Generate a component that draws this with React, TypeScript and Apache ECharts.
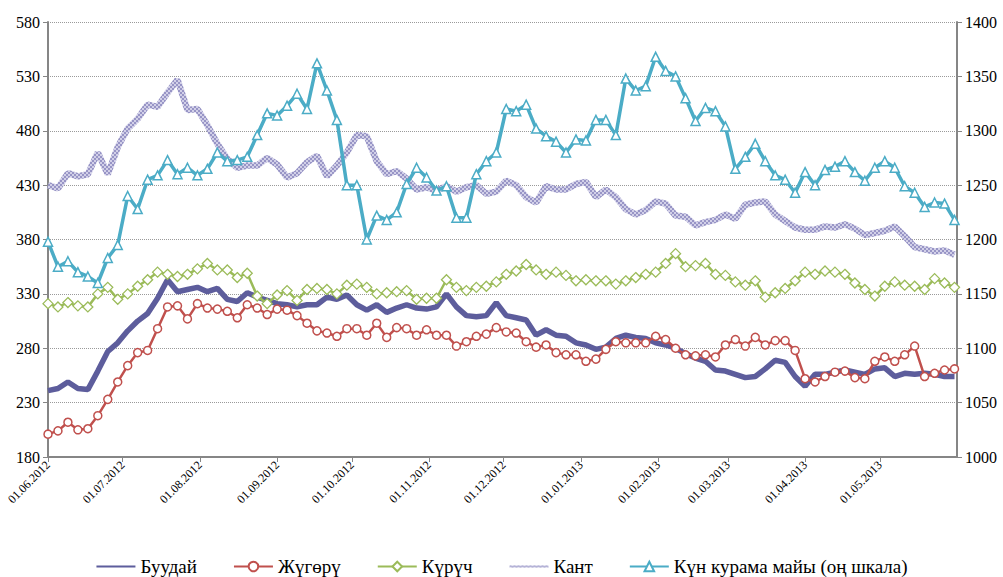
import React, { useEffect, useRef } from "react";
import * as echarts from "echarts";

const dates = [
  "2012-06-01","2012-06-05","2012-06-09","2012-06-13","2012-06-17","2012-06-21","2012-06-25","2012-06-29",
  "2012-07-03","2012-07-07","2012-07-11","2012-07-15","2012-07-19","2012-07-23","2012-07-27","2012-07-31",
  "2012-08-04","2012-08-08","2012-08-12","2012-08-16","2012-08-20","2012-08-24","2012-08-28","2012-09-01",
  "2012-09-05","2012-09-09","2012-09-13","2012-09-17","2012-09-21","2012-09-25","2012-09-29",
  "2012-10-03","2012-10-07","2012-10-11","2012-10-15","2012-10-19","2012-10-23","2012-10-27","2012-10-31",
  "2012-11-04","2012-11-08","2012-11-12","2012-11-16","2012-11-20","2012-11-24","2012-11-28",
  "2012-12-02","2012-12-06","2012-12-10","2012-12-14","2012-12-18","2012-12-22","2012-12-26","2012-12-30",
  "2013-01-03","2013-01-07","2013-01-11","2013-01-15","2013-01-19","2013-01-23","2013-01-27","2013-01-31",
  "2013-02-04","2013-02-08","2013-02-12","2013-02-16","2013-02-20","2013-02-24","2013-02-28",
  "2013-03-04","2013-03-08","2013-03-12","2013-03-16","2013-03-20","2013-03-24","2013-03-28",
  "2013-04-01","2013-04-05","2013-04-09","2013-04-13","2013-04-17","2013-04-21","2013-04-25","2013-04-29",
  "2013-05-03","2013-05-07","2013-05-11","2013-05-15","2013-05-19","2013-05-23","2013-05-27","2013-05-31",
];

const monthTicks = [
  "2012-06-01","2012-07-01","2012-08-01","2012-09-01","2012-10-01","2012-11-01",
  "2012-12-01","2013-01-01","2013-02-01","2013-03-01","2013-04-01","2013-05-01",
];

const wheat = [
  241, 243, 249, 243, 242, 259, 277, 285, 296, 305, 312, 326, 343, 332, 334, 336, 332, 335, 325, 323, 331, 327, 324, 321,
  320, 318, 320, 320, 327, 325, 329, 320, 315, 320, 313, 317, 320, 317, 316, 318, 330, 318, 310, 309, 310, 322, 310,
  308, 306, 292, 297, 292, 291, 285, 283, 279, 281, 289, 292, 290, 289, 285, 283, 280, 275, 271, 268, 260, 259, 256,
  253, 254, 261, 269, 267, 254, 245, 256, 256, 258, 260, 258, 256, 261, 262, 254, 257, 256, 257, 256, 254, 254,
];

const corn = [
  201, 204, 212, 205, 206, 218, 233, 249, 264, 276, 278, 298, 318, 319, 307, 321, 317, 316, 314, 308, 320, 317, 311, 316,
  315, 310, 303, 296, 294, 291, 298, 298, 292, 303, 290, 299, 298, 292, 297, 292, 292, 282, 286, 291, 293, 299, 295,
  294, 286, 281, 283, 276, 274, 274, 268, 270, 279, 286, 285, 285, 285, 291, 288, 280, 274, 273, 274, 272, 283, 288,
  282, 290, 283, 287, 287, 278, 252, 249, 254, 258, 259, 253, 252, 268, 272, 268, 274, 282, 254, 257, 260, 261,
];

const rice = [
  321, 318, 322, 319, 318, 330, 336, 325, 330, 337, 343, 350, 348, 346, 348, 353, 358, 352, 352, 345, 349, 328, 321, 329,
  333, 324, 334, 335, 334, 330, 338, 339, 336, 330, 331, 332, 333, 325, 326, 326, 343, 336, 333, 336, 337, 341, 348,
  351, 357, 352, 348, 350, 347, 342, 343, 342, 342, 339, 342, 345, 348, 350, 358, 367, 355, 356, 358, 348, 347, 341,
  338, 342, 327, 331, 335, 342, 350, 348, 351, 350, 348, 340, 334, 328, 337, 341, 338, 337, 334, 344, 340, 336,
];

const sugar = [
  430, 427, 441, 438, 440, 460, 440, 465, 482, 491, 504, 502, 515, 527, 499, 500, 485, 468, 454, 446, 448, 448, 455, 449,
  437, 441, 451, 457, 438, 448, 460, 476, 475, 452, 440, 443, 436, 426, 428, 425, 429, 424, 428, 430, 422, 424, 434,
  430, 419, 414, 429, 426, 426, 431, 433, 419, 426, 419, 408, 403, 407, 415, 413, 402, 401, 393, 396, 398, 403, 399,
  412, 414, 415, 403, 397, 391, 389, 389, 392, 391, 394, 390, 384, 386, 388, 392, 383, 373, 371, 369, 370, 366,
];

const sunOil = [
  1198, 1175, 1180, 1170, 1166, 1160, 1183, 1195, 1240, 1228, 1255, 1259, 1273, 1260, 1266, 1259, 1265, 1280, 1272, 1273, 1276, 1296, 1316, 1314,
  1323, 1334, 1320, 1362, 1337, 1310, 1250, 1250, 1200, 1222, 1218, 1225, 1251, 1266, 1257, 1245, 1249, 1220, 1220, 1260, 1272, 1280, 1320,
  1318, 1324, 1302, 1295, 1290, 1280, 1292, 1291, 1310, 1310, 1296, 1348, 1337, 1341, 1368, 1355, 1350, 1330, 1309, 1321, 1318, 1304, 1265,
  1276, 1288, 1272, 1259, 1255, 1243, 1262, 1250, 1264, 1267, 1272, 1262, 1254, 1266, 1272, 1266, 1249, 1243, 1230, 1234, 1233, 1218,
];

const seriesNames = ["Буудай", "Жүгөрү", "Күрүч", "Кант", "Күн курама майы (оң шкала)"];

const FONT = "Liberation Serif";

function toTs(s: string): number {
  const [y, m, d] = s.split("-").map(Number);
  return Date.UTC(y, m - 1, d);
}

function pad(n: number): string {
  return n < 10 ? "0" + n : String(n);
}

export default function App() {
  const ref = useRef<HTMLDivElement>(null);

  useEffect(() => {
    if (!ref.current) return;
    const chart = echarts.init(ref.current, undefined, { renderer: "svg" });

    const c = document.createElement("canvas");
    c.width = 4;
    c.height = 4;
    const ctx = c.getContext("2d");
    if (ctx) {
      ctx.fillStyle = "#D2D0E8";
      ctx.fillRect(0, 0, 4, 4);
      ctx.fillStyle = "#9895C6";
      ctx.fillRect(0, 0, 2, 2);
      ctx.fillRect(2, 2, 2, 2);
    }
    const sugarColor: any = { image: c, repeat: "repeat" };

    const xs = dates.map(toTs);
    const pair = (arr: number[]) => arr.map((v, i) => [xs[i], v]);
    const ticks = monthTicks.map(toTs);

    const lbl = (size: number) => ({
      fontFamily: FONT,
      fontSize: size,
      color: "#000",
      fontWeight: "normal",
    });

    const option: any = {
      animation: false,
      backgroundColor: "#ffffff",
      textStyle: { fontFamily: FONT },
      grid: { left: 48, right: 46, top: 22, bottom: 120, containLabel: false },
      legend: {
        data: [
          { name: seriesNames[0], itemStyle: { opacity: 0 } },
          { name: seriesNames[1] },
          { name: seriesNames[2] },
          { name: seriesNames[3], itemStyle: { opacity: 0 } },
          { name: seriesNames[4] },
        ],
        left: "center",
        top: 552,
        itemWidth: 39,
        itemHeight: 12,
        itemGap: 36,
        textStyle: lbl(19),
      },
      xAxis: {
        type: "value",
        min: toTs("2012-06-01"),
        max: toTs("2013-06-01"),
        axisLine: { show: true, onZero: false, lineStyle: { color: "#868686", width: 2 } },
        axisTick: { show: true, customValues: ticks, length: 5, lineStyle: { color: "#868686", width: 1 } },
        axisLabel: {
          customValues: ticks,
          rotate: 45,
          ...lbl(12),
          margin: 6,
          formatter: (v: number) => {
            const d = new Date(v);
            return pad(d.getUTCDate()) + "." + pad(d.getUTCMonth() + 1) + "." + d.getUTCFullYear();
          },
        },
        splitLine: { show: false },
      },
      yAxis: [
        {
          type: "value",
          position: "left",
          min: 180,
          max: 580,
          interval: 50,
          axisLine: { show: true, lineStyle: { color: "#868686", width: 2 } },
          axisTick: { show: true, length: 5, lineStyle: { color: "#868686" } },
          axisLabel: { ...lbl(16), margin: 8, formatter: (v: number) => String(v) },
          splitLine: { show: true, lineStyle: { color: "#9a9a9a", type: "dotted", width: 1 } },
        },
        {
          type: "value",
          position: "right",
          min: 1000,
          max: 1400,
          interval: 50,
          axisLine: { show: true, lineStyle: { color: "#868686", width: 2 } },
          axisTick: { show: true, length: 5, lineStyle: { color: "#868686" } },
          axisLabel: { ...lbl(16), margin: 8, formatter: (v: number) => String(v) },
          splitLine: { show: false },
        },
      ],
      series: [
        {
          name: seriesNames[0],
          type: "line",
          yAxisIndex: 0,
          data: pair(wheat),
          symbol: "circle",
          symbolSize: 1,
          showSymbol: false,
          lineStyle: { color: "#5D5D9C", width: 5.5 },
          itemStyle: { color: "#5D5D9C" },
        },
        {
          name: seriesNames[1],
          type: "line",
          yAxisIndex: 0,
          data: pair(corn),
          symbol: "circle",
          symbolSize: 8,
          showAllSymbol: true,
          lineStyle: { color: "#C0504D", width: 2.5 },
          itemStyle: { color: "#ffffff", borderColor: "#C0504D", borderWidth: 1.5 },
        },
        {
          name: seriesNames[2],
          type: "line",
          yAxisIndex: 0,
          data: pair(rice),
          symbol: "diamond",
          symbolSize: 10,
          showAllSymbol: true,
          lineStyle: { color: "#9BBB59", width: 2.5 },
          itemStyle: { color: "#ffffff", borderColor: "#9BBB59", borderWidth: 1.3 },
        },
        {
          name: seriesNames[3],
          type: "line",
          yAxisIndex: 0,
          data: pair(sugar),
          symbol: "circle",
          symbolSize: 1,
          showSymbol: false,
          lineStyle: { color: sugarColor, width: 6.5 },
          itemStyle: { color: "#ABA9D1" },
        },
        {
          name: seriesNames[4],
          type: "line",
          yAxisIndex: 1,
          data: pair(sunOil),
          symbol: "triangle",
          symbolSize: 9,
          showAllSymbol: true,
          lineStyle: { color: "#4BACC6", width: 3.5 },
          itemStyle: { color: "#ffffff", borderColor: "#4BACC6", borderWidth: 1.5 },
        },
      ],
    };

    chart.setOption(option);
    return () => {
      chart.dispose();
    };
  }, []);

  return (
    <div
      ref={ref}
      style={{ position: "fixed", left: 0, top: 0, width: 1003, height: 577, background: "#fff" }}
    />
  );
}
